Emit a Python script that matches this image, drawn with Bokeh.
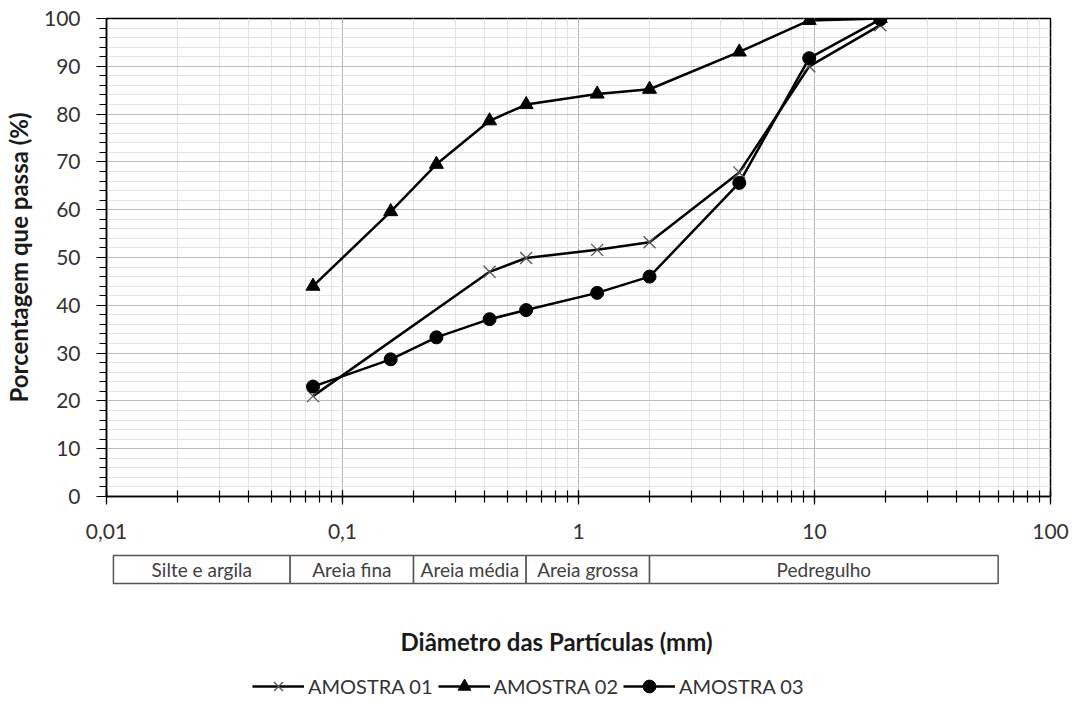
import math
from bokeh.plotting import figure
from bokeh.layouts import column
from bokeh.models import (Range1d, LogTicker, SingleIntervalTicker, CustomJSTickFormatter,
                          Legend, LegendItem, Label)
from bokeh.embed import file_html
from bokeh.resources import INLINE
from bokeh.core.properties import value

# ---------------- data ----------------
diam_01 = [0.075, 0.42, 0.6, 1.2, 2.0, 4.8, 9.5, 19]
amostra_01 = [21.0, 47.0, 49.9, 51.6, 53.2, 67.8, 90.0, 98.6]

diam_02 = [0.075, 0.16, 0.25, 0.42, 0.6, 1.2, 2.0, 4.8, 9.5, 19]
amostra_02 = [44.0, 59.6, 69.5, 78.6, 82.0, 84.2, 85.2, 93.0, 99.6, 100.0]

diam_03 = [0.075, 0.16, 0.25, 0.42, 0.6, 1.2, 2.0, 4.8, 9.5, 19]
amostra_03 = [23.0, 28.7, 33.3, 37.1, 39.0, 42.6, 46.0, 65.6, 91.7, 99.8]

series_names = ["AMOSTRA 01", "AMOSTRA 02", "AMOSTRA 03"]

x_ticks = [0.01, 0.1, 1, 10, 100]
x_tick_labels = ["0,01", "0,1", "1", "10", "100"]

class_bounds = [0.0107, 0.06, 0.2, 0.6, 2.0, 60]
class_labels = ["Silte e argila", "Areia fina", "Areia média", "Areia grossa", "Pedregulho"]

FONT = "Lato"
TXT = "#333333"
LW = 2.5
STYLES = [dict(marker="x", size=17, line_color="#555555", line_width=1.3),
          dict(marker="triangle", size=14, fill_color="black", line_color="black"),
          dict(marker="circle", size=13, fill_color="black", line_color="black")]
SERIES = [(diam_01, amostra_01), (diam_02, amostra_02), (diam_03, amostra_03)]

# ---------------- main chart ----------------
p = figure(width=1075, height=548, x_axis_type="log",
           x_range=Range1d(0.01, 100), y_range=Range1d(0, 100),
           output_backend="svg", toolbar_location=None,
           min_border_left=106, min_border_right=25, min_border_top=18, min_border_bottom=52)
p.background_fill_color = "white"
p.border_fill_color = "white"
p.outline_line_color = "black"
p.outline_line_width = 1.5

p.xaxis.ticker = LogTicker(num_minor_ticks=10)
p.xaxis.formatter = CustomJSTickFormatter(
    args=dict(tvals=x_ticks, tlabels=x_tick_labels),
    code="""
for (let i = 0; i < tvals.length; i++) {
  if (Math.abs(tick - tvals[i]) <= 1e-9 * tvals[i]) return tlabels[i];
}
return '';
""")
p.yaxis.ticker = SingleIntervalTicker(interval=10, num_minor_ticks=5)

for ax in (p.xaxis[0], p.yaxis[0]):
    ax.axis_line_color = "black"
    ax.axis_line_width = 1.5
    ax.major_tick_line_color = "black"
    ax.minor_tick_line_color = "black"
    ax.major_tick_line_width = 1.2
    ax.minor_tick_line_width = 1.2
    ax.major_label_text_font = FONT
    ax.major_label_text_font_size = "21px"
    ax.major_label_text_color = TXT

p.xaxis.major_tick_in = 6
p.xaxis.major_tick_out = 8
p.xaxis.minor_tick_in = 6
p.xaxis.minor_tick_out = 6
p.xaxis.major_label_standoff = 19

p.yaxis.major_tick_in = 0
p.yaxis.major_tick_out = 10
p.yaxis.minor_tick_in = 0
p.yaxis.minor_tick_out = 7
p.yaxis.major_label_standoff = 16
p.yaxis.axis_label = "Porcentagem que passa (%)"
p.yaxis.axis_label_text_font = FONT
p.yaxis.axis_label_text_font_style = "bold"
p.yaxis.axis_label_text_font_size = "24px"
p.yaxis.axis_label_text_color = "#1a1a1a"
p.yaxis.axis_label_standoff = 8

p.xgrid.grid_line_color = "#b4b4b4"
p.xgrid.minor_grid_line_color = "#e2e2e2"
p.ygrid.grid_line_color = "#bdbdbd"
p.ygrid.minor_grid_line_color = "#e4e4e4"

for (xs, ys) in SERIES:
    p.line(x=xs, y=ys, line_color="black", line_width=LW)
for (xs, ys), st in zip(SERIES, STYLES):
    p.scatter(x=xs, y=ys, **st)

# ---------------- classification boxes, title, legend ----------------
q = figure(width=1075, height=153, x_axis_type="log", x_range=p.x_range,
           y_range=Range1d(153, 0), output_backend="svg", toolbar_location=None,
           x_axis_location=None, y_axis_location=None,
           min_border_left=106, min_border_right=25, min_border_top=0, min_border_bottom=0)
q.outline_line_color = None
q.grid.visible = False
q.background_fill_color = "white"
q.border_fill_color = "white"
# off-screen range used only so that legend entries can show each series' glyphs
q.extra_y_ranges = {"legend_only": Range1d(1000, 2000)}

lefts = class_bounds[:-1]
rights = class_bounds[1:]
centers = [math.sqrt(a * b) for a, b in zip(lefts, rights)]
q.quad(left=lefts, right=rights, top=7, bottom=35, fill_color="white",
       line_color="#555555", line_width=1.5)
q.text(x=centers, y=[21] * len(centers), text=class_labels, text_font=value(FONT),
       text_font_size="19px", text_align="center", text_baseline="middle", text_color="#404040")

q.add_layout(Label(x=450, y=60, x_units="screen", y_units="screen",
                   text="Diâmetro das Partículas (mm)", text_font=FONT,
                   text_font_style="bold", text_font_size="24px", text_color="#1a1a1a",
                   text_align="center", text_baseline="middle"))

items = []
for name, (xs, ys), st in zip(series_names, SERIES, STYLES):
    lr = q.line(x=xs, y=ys, line_color="black", line_width=LW, y_range_name="legend_only")
    mr = q.scatter(x=xs, y=ys, y_range_name="legend_only", **st)
    items.append(LegendItem(label=name, renderers=[lr, mr]))

legend = Legend(items=items, orientation="horizontal", location=(146, -1), padding=0, margin=0,
                spacing=5, glyph_width=52, glyph_height=32, label_standoff=4,
                label_text_font=FONT, label_text_font_size="20px", label_text_color=TXT,
                border_line_color=None, background_fill_alpha=0)
q.add_layout(legend)

layout = column(p, q, spacing=0)
open("out.html", "w").write(file_html(layout, INLINE))
